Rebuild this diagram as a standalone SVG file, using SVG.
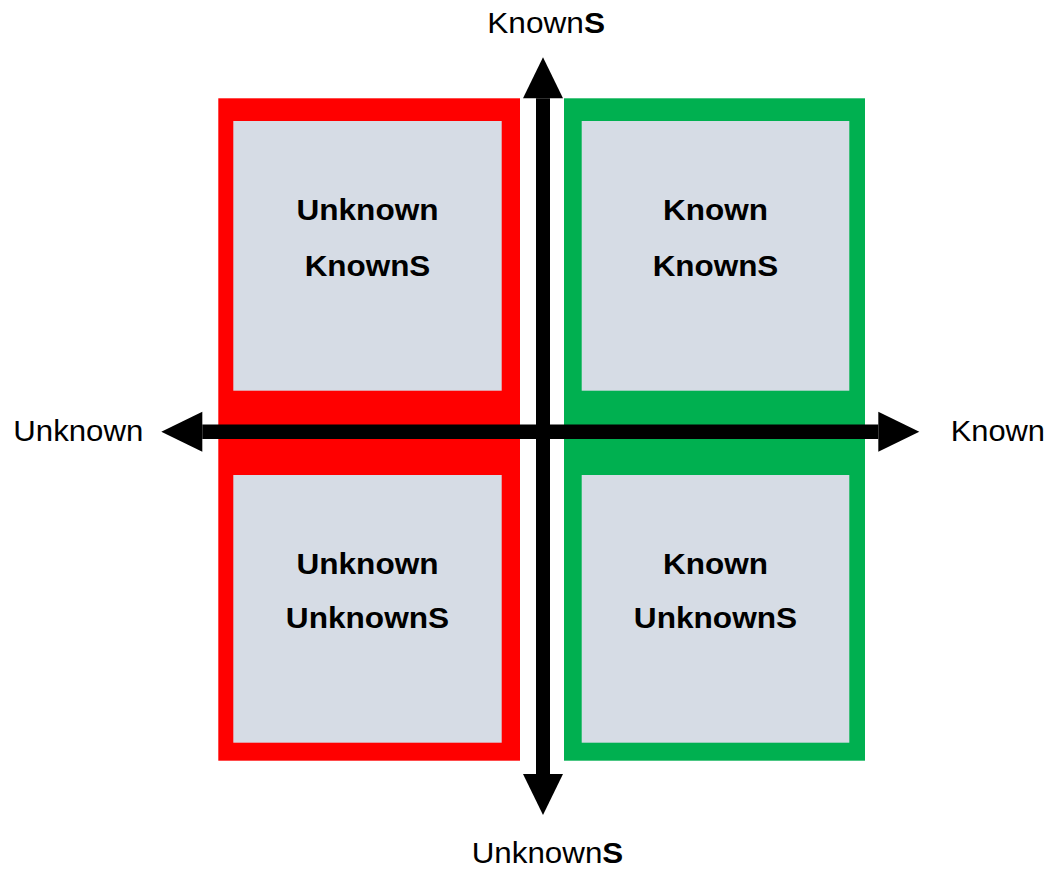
<svg xmlns="http://www.w3.org/2000/svg" width="1051" height="870" viewBox="0 0 1051 870">
  <style>
    .panel-red { fill: #FF0000; }
    .panel-green { fill: #00B050; }
    .cell { fill: #D6DCE5; }
    .cell-label { font-family: "Liberation Sans", Arial, sans-serif; font-weight: bold; font-size: 30px; fill: #000; text-anchor: middle; }
    .axis-label { font-family: "Liberation Sans", Arial, sans-serif; font-size: 30px; fill: #000; }
    .axis-label .strong { font-weight: bold; }
    .axis { stroke: #000; fill: none; }
  </style>
  <defs>
    <marker id="head" markerUnits="userSpaceOnUse" viewBox="0 -21 42 42" markerWidth="42" markerHeight="42" refX="0" refY="0" orient="auto-start-reverse" overflow="visible">
      <path d="M0,-20 L41,0 L0,20 Z" fill="#000"/>
    </marker>
  </defs>

  <rect width="1051" height="870" fill="#FFFFFF"/>

  <!-- coloured frames -->
  <g id="frame-unknown">
    <rect class="panel-red" x="218.3" y="98.3" width="301.7" height="662.4"/>
  </g>
  <g id="frame-known">
    <rect class="panel-green" x="564" y="98.3" width="301" height="662.4"/>
  </g>

  <!-- quadrants -->
  <g id="unknown-knowns">
    <rect class="cell" x="233.3" y="121" width="268.4" height="269.7"/>
    <text class="cell-label" x="367.5" y="219.5" textLength="142" lengthAdjust="spacingAndGlyphs">Unknown</text>
    <text class="cell-label" x="367.5" y="275.5" textLength="125.7" lengthAdjust="spacingAndGlyphs">KnownS</text>
  </g>
  <g id="known-knowns">
    <rect class="cell" x="581.7" y="121" width="267.6" height="269.7"/>
    <text class="cell-label" x="715.5" y="219.5" textLength="105" lengthAdjust="spacingAndGlyphs">Known</text>
    <text class="cell-label" x="715.5" y="275.5" textLength="125.7" lengthAdjust="spacingAndGlyphs">KnownS</text>
  </g>
  <g id="unknown-unknowns">
    <rect class="cell" x="233.3" y="475" width="268.4" height="267.7"/>
    <text class="cell-label" x="367.5" y="573.5" textLength="142" lengthAdjust="spacingAndGlyphs">Unknown</text>
    <text class="cell-label" x="367.5" y="627.5" textLength="163.4" lengthAdjust="spacingAndGlyphs">UnknownS</text>
  </g>
  <g id="known-unknowns">
    <rect class="cell" x="581.7" y="475" width="267.6" height="267.7"/>
    <text class="cell-label" x="715.5" y="573.5" textLength="105" lengthAdjust="spacingAndGlyphs">Known</text>
    <text class="cell-label" x="715.5" y="627.5" textLength="163.4" lengthAdjust="spacingAndGlyphs">UnknownS</text>
  </g>

  <!-- axes -->
  <g id="connectors">
    <line class="axis" x1="543" y1="774" x2="543" y2="98.3" stroke-width="14" marker-start="url(#head)" marker-end="url(#head)"/>
    <line class="axis" x1="202.3" y1="431.7" x2="878.3" y2="431.7" stroke-width="14.5" marker-start="url(#head)" marker-end="url(#head)"/>
  </g>

  <!-- axis labels -->
  <g id="label-top">
    <text class="axis-label" x="487.3" y="32.5" textLength="117.7" lengthAdjust="spacingAndGlyphs">Known<tspan class="strong">S</tspan></text>
  </g>
  <g id="label-left">
    <text class="axis-label" x="13.3" y="441" textLength="130" lengthAdjust="spacingAndGlyphs">Unknown</text>
  </g>
  <g id="label-right">
    <text class="axis-label" x="950.7" y="441" textLength="94.3" lengthAdjust="spacingAndGlyphs">Known</text>
  </g>
  <g id="label-bottom">
    <text class="axis-label" x="471.7" y="863.3" textLength="151.6" lengthAdjust="spacingAndGlyphs">Unknown<tspan class="strong">S</tspan></text>
  </g>
</svg>
